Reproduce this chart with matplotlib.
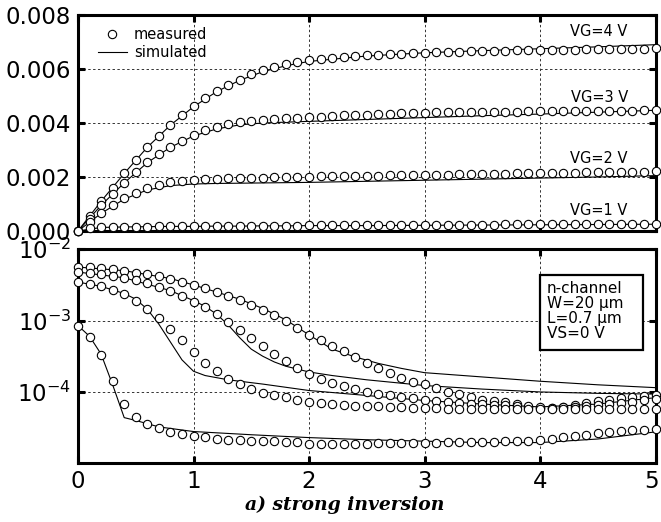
import numpy as np
import matplotlib
matplotlib.use("Agg")
import matplotlib.pyplot as plt
import matplotlib.transforms as mtransforms
from matplotlib.lines import Line2D
from matplotlib.patches import Rectangle
from matplotlib.ticker import FixedLocator, FixedFormatter, NullLocator

plt.rcParams['font.family'] = ['DejaVu Sans']
plt.rcParams['mathtext.fontset'] = 'dejavusans'

# drain voltage grid of the measured points (0 .. 5 V, 0.1 V step)
vd = np.round(np.arange(0, 5.01, 0.1), 1)

# --- top panel: drain current (A), measured ---
id_vg4 = [0, 0.00056, 0.0011, 0.00161, 0.00214, 0.00263, 0.0031, 0.00353, 0.00393, 0.0043,
          0.00463, 0.00492, 0.00519, 0.00541, 0.00561, 0.0058, 0.00595, 0.00607, 0.00617, 0.00626,
          0.00634, 0.00638, 0.00642, 0.00645, 0.00648, 0.0065, 0.00652, 0.00655, 0.00657, 0.00659,
          0.00661, 0.00662, 0.00663, 0.00664, 0.00665, 0.00666, 0.00667, 0.00668, 0.00669, 0.0067,
          0.00671, 0.00671, 0.00672, 0.00672, 0.00673, 0.00673, 0.00674, 0.00674, 0.00675, 0.00675, 0.00676]
id_vg3 = [0, 0.00045, 0.00095, 0.00137, 0.00178, 0.00218, 0.00255, 0.00286, 0.00311, 0.00335,
          0.00356, 0.00373, 0.00386, 0.00395, 0.00402, 0.00407, 0.00412, 0.00415, 0.00418, 0.0042,
          0.00422, 0.00424, 0.00426, 0.00428, 0.0043, 0.00431, 0.00433, 0.00435, 0.00436, 0.00437,
          0.00438, 0.00439, 0.00439, 0.0044, 0.0044, 0.00441, 0.00441, 0.00442, 0.00442, 0.00443,
          0.00443, 0.00444, 0.00444, 0.00444, 0.00445, 0.00445, 0.00445, 0.00446, 0.00446, 0.00447, 0.00447]
id_vg2 = [0, 0.00033, 0.00067, 0.00095, 0.00122, 0.00141, 0.00159, 0.00172, 0.0018, 0.00186,
          0.0019, 0.00192, 0.00194, 0.00195, 0.00196, 0.00197, 0.00198, 0.00199, 0.002, 0.002,
          0.00201, 0.00202, 0.00202, 0.00203, 0.00204, 0.00204, 0.00205, 0.00206, 0.00206, 0.00207,
          0.00208, 0.00208, 0.00209, 0.0021, 0.0021, 0.00211, 0.00212, 0.00212, 0.00213, 0.00214,
          0.00214, 0.00215, 0.00215, 0.00216, 0.00217, 0.00217, 0.00218, 0.00219, 0.00219, 0.0022, 0.00221]
id_vg1 = [0, 0.00012, 0.00014, 0.00015, 0.00015, 0.00016, 0.00016, 0.00017, 0.00017, 0.00017,
          0.00018, 0.00018, 0.00018, 0.00019, 0.00019, 0.00019, 0.0002, 0.0002, 0.0002, 0.0002,
          0.00021, 0.00021, 0.00021, 0.00021, 0.00022, 0.00022, 0.00022, 0.00022, 0.00023, 0.00023,
          0.00023, 0.00023, 0.00024, 0.00024, 0.00024, 0.00024, 0.00024, 0.00025, 0.00025, 0.00025,
          0.00025, 0.00025, 0.00026, 0.00026, 0.00026, 0.00026, 0.00026, 0.00027, 0.00027, 0.00027, 0.00027]

# --- top panel: simulated ---
vd_sim = [0, 0.2, 0.4, 0.6, 0.8, 1.0, 1.2, 1.4, 1.6, 1.8, 2.0, 2.5, 3.0, 3.5, 4.0, 4.5, 5.0]
sim_vg4 = [0, 0.0011, 0.00213, 0.0031, 0.00392, 0.0046, 0.00516, 0.00558, 0.0059, 0.00612,
           0.00628, 0.00648, 0.0066, 0.00668, 0.00675, 0.00682, 0.0069]
sim_vg3 = [0, 0.00095, 0.00178, 0.00253, 0.0031, 0.00352, 0.00378, 0.00393, 0.004, 0.00403,
           0.00406, 0.00413, 0.0042, 0.00427, 0.00433, 0.0044, 0.00447]
sim_vg2 = [0, 0.00065, 0.00118, 0.00152, 0.00168, 0.00174, 0.00176, 0.00177, 0.00178, 0.00179,
           0.0018, 0.00184, 0.00188, 0.00192, 0.00196, 0.002, 0.00205]
sim_vg1 = [0, 0.00013, 0.00015, 0.00016, 0.00017, 0.00017, 0.00018, 0.00018, 0.00019, 0.00019,
           0.0002, 0.0002, 0.00021, 0.00022, 0.00023, 0.00024, 0.00025]

# --- bottom panel: log10 of output conductance, measured ---
lg_vg4 = [-2.25, -2.25, -2.264, -2.28, -2.306, -2.333, -2.351, -2.379, -2.411, -2.458,
          -2.5, -2.55, -2.597, -2.657, -2.712, -2.782, -2.851, -2.921, -3.004, -3.106,
          -3.199, -3.278, -3.361, -3.431, -3.514, -3.592, -3.671, -3.74, -3.8, -3.856,
          -3.893, -3.949, -4.0, -4.032, -4.064, -4.111, -4.125, -4.148, -4.171, -4.217,
          -4.231, -4.231, -4.208, -4.185, -4.162, -4.134, -4.111, -4.088, -4.065, -4.05, -4.04]
lg_vg3 = [-2.32, -2.333, -2.351, -2.375, -2.398, -2.435, -2.472, -2.527, -2.583, -2.657,
          -2.736, -2.814, -2.911, -3.014, -3.129, -3.245, -3.361, -3.463, -3.569, -3.671,
          -3.754, -3.824, -3.87, -3.917, -3.953, -3.995, -4.023, -4.046, -4.069, -4.092,
          -4.111, -4.125, -4.148, -4.162, -4.171, -4.171, -4.185, -4.185, -4.194, -4.203,
          -4.217, -4.22, -4.215, -4.21, -4.2, -4.19, -4.175, -4.16, -4.14, -4.12, -4.1]
lg_vg2 = [-2.458, -2.481, -2.518, -2.565, -2.63, -2.722, -2.842, -2.967, -3.12, -3.277,
          -3.444, -3.592, -3.708, -3.814, -3.893, -3.963, -4.009, -4.046, -4.078, -4.111,
          -4.139, -4.157, -4.171, -4.18, -4.194, -4.194, -4.203, -4.208, -4.217, -4.222,
          -4.23, -4.232, -4.234, -4.236, -4.238, -4.24, -4.24, -4.242, -4.242, -4.244,
          -4.244, -4.245, -4.245, -4.245, -4.245, -4.245, -4.244, -4.244, -4.243, -4.242, -4.24]
lg_vg1 = [-3.074, -3.231, -3.476, -3.847, -4.171, -4.347, -4.449, -4.509, -4.556, -4.588,
          -4.611, -4.633, -4.657, -4.668, -4.68, -4.69, -4.69, -4.69, -4.703, -4.703,
          -4.726, -4.726, -4.726, -4.726, -4.726, -4.726, -4.72, -4.72, -4.72, -4.715,
          -4.71, -4.71, -4.705, -4.7, -4.7, -4.7, -4.695, -4.69, -4.69, -4.685,
          -4.68, -4.657, -4.633, -4.615, -4.6, -4.578, -4.565, -4.55, -4.54, -4.532, -4.518]

# --- bottom panel: simulated (x knots, log10 values) ---
gx_vg4 = [0, 0.4, 0.8, 1.0, 1.2, 1.4, 1.6, 1.8, 2.0, 2.2, 2.4, 2.6, 2.8, 3.0, 3.5, 4.0, 4.5, 5.0]
gs_vg4 = [-2.25, -2.3, -2.41, -2.5, -2.6, -2.7, -2.83, -2.99, -3.2, -3.4, -3.51, -3.6, -3.67,
          -3.73, -3.79, -3.85, -3.9, -3.94]
gx_vg3 = [0, 0.4, 0.8, 1.0, 1.1, 1.2, 1.3, 1.4, 1.5, 1.6, 1.7, 1.8, 1.9, 2.0, 2.2, 2.5, 3.0,
          3.5, 4.0, 4.5, 5.0]
gs_vg3 = [-2.32, -2.4, -2.58, -2.72, -2.8, -2.91, -3.06, -3.24, -3.4, -3.5, -3.58, -3.64,
          -3.68, -3.72, -3.77, -3.83, -3.91, -3.96, -4.0, -4.02, -4.03]
gx_vg2 = [0, 0.2, 0.4, 0.5, 0.6, 0.7, 0.8, 0.9, 1.0, 1.1, 1.3, 1.6, 2.0, 2.5, 3.0, 3.5, 4.0,
          4.5, 5.0]
gs_vg2 = [-2.46, -2.52, -2.62, -2.7, -2.84, -3.05, -3.3, -3.55, -3.71, -3.77, -3.83, -3.89,
          -3.98, -4.05, -4.12, -4.17, -4.21, -4.17, -4.08]
gx_vg1 = [0, 0.1, 0.2, 0.3, 0.4, 0.5, 0.7, 1.0, 1.5, 2.0, 2.5, 3.0, 3.5, 4.0, 4.5, 5.0]
gs_vg1 = [-3.07, -3.22, -3.47, -3.9, -4.36, -4.4, -4.49, -4.555, -4.6, -4.64, -4.67, -4.69,
          -4.71, -4.71, -4.66, -4.56]

vg_labels = ['VG=4 V', 'VG=3 V', 'VG=2 V', 'VG=1 V']
vg_label_y = [0.00737, 0.00496, 0.00268, 0.00077]
top_ticks = [0, 0.002, 0.004, 0.006, 0.008]
top_ticklabels = ['0.000', '0.002', '0.004', '0.006', '0.008']
log_ticks = [1e-4, 1e-3, 1e-2]
log_ticklabels = ['$10^{-4}$', '$10^{-3}$', '$10^{-2}$']
x_ticks = [0, 1, 2, 3, 4, 5]
device_info = 'n-channel\nW=20 \u00b5m\nL=0.7 \u00b5m\nVS=0 V'

meas_style = dict(linestyle='none', marker='o', markersize=6, markerfacecolor='white',
                  markeredgecolor='k', markeredgewidth=0.8, clip_on=False, zorder=4)
sim_style = dict(color='k', linewidth=0.8, zorder=3)

fig = plt.figure(figsize=(6.61, 5.22), dpi=100)
ax1 = fig.add_axes([0.118, 0.5575, 0.8737, 0.4138])
ax2 = fig.add_axes([0.118, 0.1125, 0.8737, 0.41])


def style_axes(ax):
    for sp in ax.spines.values():
        sp.set_linewidth(2.2)
    ax.tick_params(direction='in', length=5, width=2.2, top=True, right=True,
                   labelsize=16.5, pad=5)
    ax.grid(True, linestyle=(0, (2.5, 2.5)), color='0.2', linewidth=0.7)
    ax.set_xlim(0, 5)
    ax.xaxis.set_major_locator(FixedLocator(x_ticks))


# top panel
for meas, sim in zip([id_vg4, id_vg3, id_vg2, id_vg1], [sim_vg4, sim_vg3, sim_vg2, sim_vg1]):
    ax1.plot(vd_sim, sim, **sim_style)
    ax1.plot(vd, meas, **meas_style)
style_axes(ax1)
ax1.set_ylim(0, 0.008)
ax1.yaxis.set_major_locator(FixedLocator(top_ticks))
ax1.yaxis.set_major_formatter(FixedFormatter(top_ticklabels))
ax1.tick_params(labelbottom=False)
for lab, y in zip(vg_labels, vg_label_y):
    ax1.text(4.76, y, lab, ha='right', va='center', fontsize=10.5)

handles = [Line2D([], [], **{k: v for k, v in meas_style.items() if k not in ('clip_on', 'zorder')}),
           Line2D([], [], **sim_style)]
ax1.legend(handles, ['measured', 'simulated'], loc='upper left', bbox_to_anchor=(0.034, 0.945),
           frameon=False, fontsize=10.5, handlelength=2.0, handletextpad=0.5,
           labelspacing=0.2, borderpad=0, borderaxespad=0)

# bottom panel
for meas, gx, gs in zip([lg_vg4, lg_vg3, lg_vg2, lg_vg1], [gx_vg4, gx_vg3, gx_vg2, gx_vg1],
                        [gs_vg4, gs_vg3, gs_vg2, gs_vg1]):
    ax2.plot(gx, 10 ** np.array(gs), **sim_style)
    ax2.plot(vd, 10 ** np.array(meas), **meas_style)
ax2.set_yscale('log')
style_axes(ax2)
ax2.set_ylim(1e-5, 1e-2)
ax2.yaxis.set_major_locator(FixedLocator(log_ticks))
ax2.yaxis.set_major_formatter(FixedFormatter(log_ticklabels))
ax2.yaxis.set_minor_locator(NullLocator())

# keep the last x label ("5") inside the figure edge
fig.canvas.draw()
last_lab = ax2.get_xticklabels()[-1]
last_lab.set_transform(last_lab.get_transform() +
                       mtransforms.ScaledTranslation(-3 / 72, 0, fig.dpi_scale_trans))

# device info box
ax2.add_patch(Rectangle((0.8, 0.53), 0.178, 0.35, transform=ax2.transAxes, facecolor='white',
                        edgecolor='k', linewidth=1.6, zorder=5))
ax2.text(0.812, 0.85, device_info, transform=ax2.transAxes, ha='left', va='top',
         fontsize=11, linespacing=1.0, zorder=6)

fig.text(0.522, 1 - 505 / 522, 'a) strong inversion', ha='center', va='center',
         fontsize=13.5, family='DejaVu Serif', weight='bold', style='italic')

plt.savefig('out.png', dpi=100)
plt.close()
